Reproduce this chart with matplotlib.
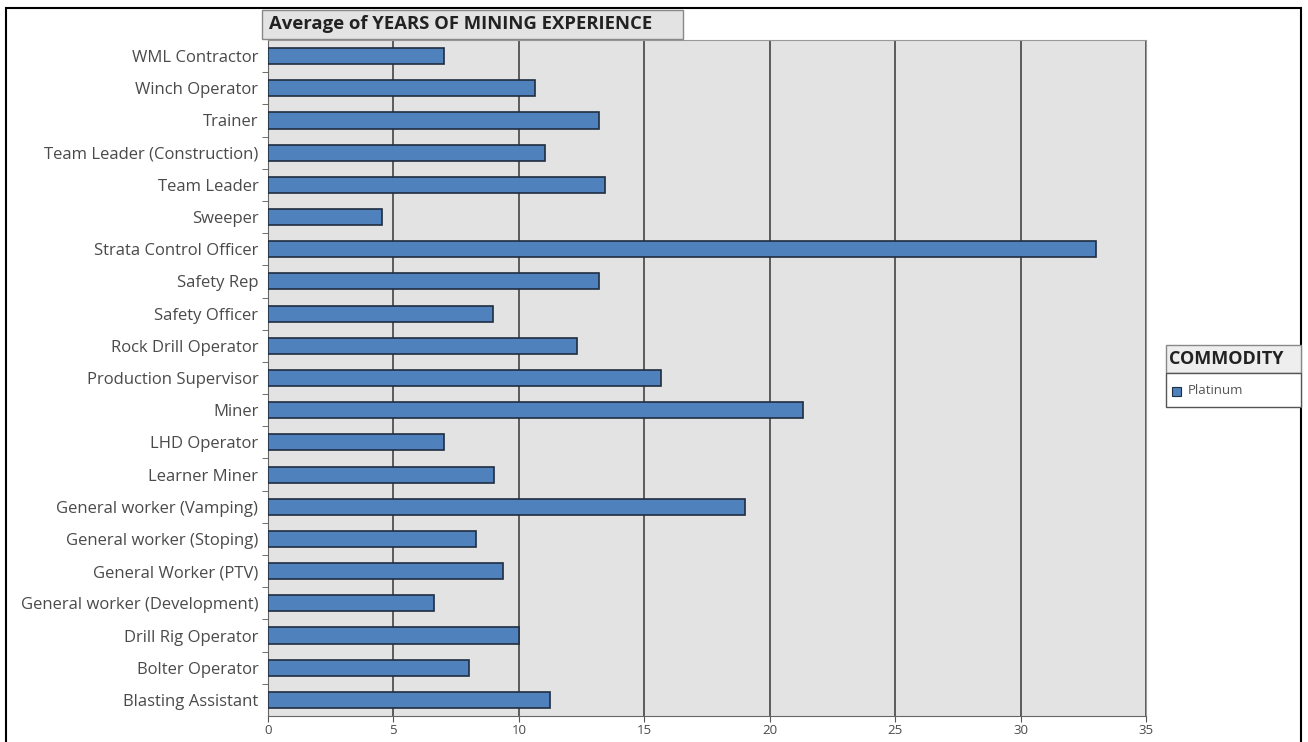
import matplotlib
matplotlib.use("Agg")
import matplotlib.pyplot as plt
from matplotlib.patches import Rectangle

# job titles, top to bottom as shown
roles = [
    "WML Contractor", "Winch Operator", "Trainer", "Team Leader (Construction)",
    "Team Leader", "Sweeper", "Strata Control Officer", "Safety Rep",
    "Safety Officer", "Rock Drill Operator", "Production Supervisor", "Miner",
    "LHD Operator", "Learner Miner", "General worker (Vamping)",
    "General worker (Stoping)", "General Worker (PTV)",
    "General worker (Development)", "Drill Rig Operator", "Bolter Operator",
    "Blasting Assistant",
]
years = [
    7.0, 10.65, 13.2, 11.05,
    13.45, 4.55, 33.0, 13.2,
    8.97, 12.3, 15.67, 21.33,
    7.0, 9.0, 19.0,
    8.3, 9.37,
    6.6, 10.0, 8.0,
    11.25,
]
xticks = [0, 5, 10, 15, 20, 25, 30, 35]

plt.rcParams['font.family'] = ['Open Sans', 'DejaVu Sans']

fig = plt.figure(figsize=(13.08, 7.42), dpi=100)
W, H = 1308, 742
ax = fig.add_axes([268 / W, 1 - 716 / H, (1146 - 268) / W, (716 - 40) / H])
ax.set_facecolor("#e3e3e3")

pos = list(range(len(roles)))
ax.barh(pos, years, height=0.5, color="#4f81bd", edgecolor="#1f2d40",
        linewidth=1.2, zorder=3)
ax.set_ylim(len(roles) - 0.5, -0.5)
ax.set_xlim(0, 35)
ax.set_yticks(pos)
ax.set_yticklabels(roles, fontsize=12, color="#4a4a4a")
ax.set_yticks([p + 0.5 for p in pos[:-1]], minor=True)
ax.tick_params(axis="y", which="major", length=0, pad=7)
ax.tick_params(axis="y", which="minor", length=4, color="#555555")
ax.set_xticks(xticks)
ax.set_xticklabels([str(t) for t in xticks], fontsize=9.5, color="#4a4a4a")
ax.tick_params(axis="x", length=4, color="#555555", pad=2)
ax.xaxis.grid(True, color="#444444", linewidth=1.2, zorder=1)
ax.set_axisbelow(True)
for side in ["top", "right"]:
    ax.spines[side].set_color("#999999")
ax.spines["left"].set_color("#666666")
ax.spines["bottom"].set_color("#666666")

# outer frame
fig.patches.append(Rectangle((6 / W, -0.01), (1301 - 6) / W, 1 - 8 / H + 0.01,
                             transform=fig.transFigure, fill=False,
                             edgecolor="black", linewidth=1.5))

# title box
fig.patches.append(Rectangle((262 / W, 1 - 39 / H), (683 - 262) / W, 29 / H,
                             transform=fig.transFigure, facecolor="#e3e3e3",
                             edgecolor="#888888", linewidth=1))
fig.text(269 / W, 1 - 24 / H, "Average of YEARS OF MINING EXPERIENCE",
         fontsize=13.3, fontweight="bold", color="#222222", va="center", ha="left")

# legend
fig.patches.append(Rectangle((1166 / W, 1 - 373 / H), (1301 - 1166) / W, 28 / H,
                             transform=fig.transFigure, facecolor="#eeeeee",
                             edgecolor="#888888", linewidth=1))
fig.patches.append(Rectangle((1166 / W, 1 - 407 / H), (1301 - 1166) / W, 34 / H,
                             transform=fig.transFigure, facecolor="white",
                             edgecolor="#555555", linewidth=1))
fig.text(1169 / W, 1 - 359 / H, "COMMODITY", fontsize=13, fontweight="bold",
         color="#222222", va="center", ha="left")
fig.patches.append(Rectangle((1172 / W, 1 - 396 / H), 9 / W, 9 / H,
                             transform=fig.transFigure, facecolor="#4f81bd",
                             edgecolor="#1f2d40", linewidth=0.8))
fig.text(1188 / W, 1 - 391 / H, "Platinum", fontsize=9.5, color="#555555",
         va="center", ha="left")

fig.savefig("out.png", dpi=100)
